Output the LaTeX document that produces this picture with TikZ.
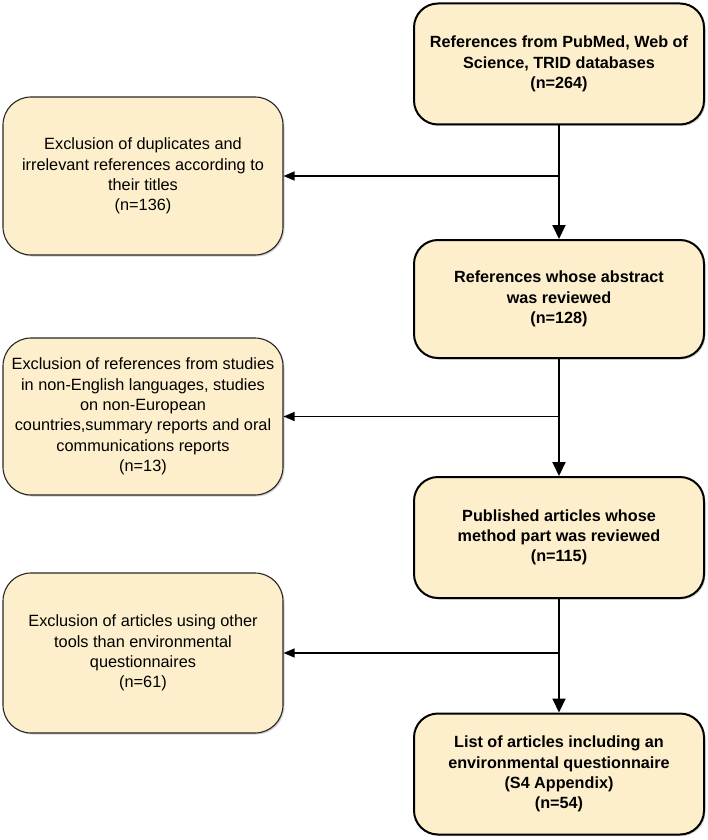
\documentclass[tikz,border=0pt]{standalone}
\usepackage{fontspec}
\setmainfont{Liberation Sans}
\usetikzlibrary{arrows.meta,shadows}
\definecolor{boxfill}{RGB}{253,239,203}
\begin{document}
\begin{tikzpicture}[x=1pt,y=-1pt,
        mainbox/.style={draw=black,line width=2pt,fill=boxfill,rounded corners=24pt,
            minimum width=290pt,minimum height=121pt,align=center,inner xsep=4pt,
            font=\fontsize{16.2}{20.3}\selectfont\bfseries,
            drop shadow={opacity=0.35,shadow xshift=1.5pt,shadow yshift=-1.5pt}},
        sidebox/.style={draw=black!85,line width=1.1pt,fill=boxfill,rounded corners=28pt,
            minimum width=280pt,minimum height=158pt,align=center,inner xsep=4pt,
            font=\fontsize{16.3}{20.3}\selectfont,
            drop shadow={opacity=0.35,shadow xshift=1.5pt,shadow yshift=-1.5pt}},
        spine/.style={line width=2pt,-{Triangle[length=14pt,width=13pt]}},
        branch/.style={line width=1.2pt,-{Triangle[length=11pt,width=9pt]}}]
    \useasboundingbox (0,0) rectangle (707,840);
    % main column
    \node[mainbox] (refs) at (559,64) {References from PubMed, Web of\\Science, TRID databases\\(n=264)};
    \node[mainbox,minimum height=118pt] (abstr) at (559,299) {References whose abstract\\was reviewed\\(n=128)};
    \node[mainbox] (method) at (559,537.5) {Published articles whose\\method part was reviewed\\(n=115)};
    \node[mainbox] (final) at (559,774) {List of articles including an\\environmental questionnaire\\(S4 Appendix)\\(n=54)};
    % exclusions
    \node[sidebox] (excl1) at (143,176) {Exclusion of duplicates and\\irrelevant references according to\\their titles\\(n=136)};
    \node[sidebox,minimum height=157pt] (excl2) at (143,416.5) {Exclusion of references from studies\\in non-English languages, studies\\on non-European\\countries,summary reports and oral\\communications reports\\(n=13)};
    \node[sidebox,minimum height=160pt] (excl3) at (143,653) {Exclusion of articles using other\\tools than environmental\\questionnaires\\(n=61)};
    \coordinate (b1) at (refs.south |- excl1.east);
    \coordinate (b2) at (abstr.south |- excl2.east);
    \coordinate (b3) at (method.south |- excl3.east);
    \draw[spine] (refs.south) -- (abstr.north);
    \draw[spine] (abstr.south) -- (method.north);
    \draw[spine] (method.south) -- (final.north);
    \draw[branch] (b1) -- (excl1.east);
    \draw[branch] (b2) -- (excl2.east);
    \draw[branch] (b3) -- (excl3.east);
\end{tikzpicture}
\end{document}
